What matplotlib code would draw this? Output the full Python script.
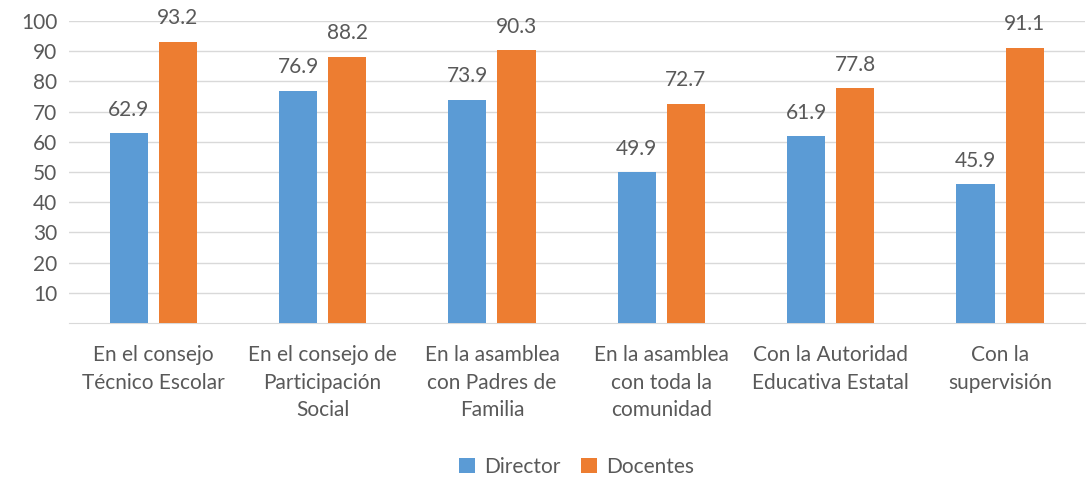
import matplotlib.pyplot as plt
import numpy as np

plt.rcParams['font.family'] = ['Lato', 'DejaVu Sans']

categories = ["En el consejo\nTécnico Escolar", "En el consejo de\nParticipación\nSocial",
              "En la asamblea\ncon Padres de\nFamilia", "En la asamblea\ncon toda la\ncomunidad",
              "Con la Autoridad\nEducativa Estatal", "Con la\nsupervisión"]
director = [62.9, 76.9, 73.9, 49.9, 61.9, 45.9]
docentes = [93.2, 88.2, 90.3, 72.7, 77.8, 91.1]

blue = '#5B9BD5'
orange = '#ED7D31'
txt = '#595959'
fs = 15

fig = plt.figure(figsize=(10.88, 4.78), dpi=100)
ax = fig.add_axes([0.063, 0.324, 0.934, 0.632])

x = np.arange(len(categories))
w = 0.225
off = 0.145
b1 = ax.bar(x - off, director, width=w, color=blue, label='Director', zorder=3)
b2 = ax.bar(x + off, docentes, width=w, color=orange, label='Docentes', zorder=3)

for bars, vals in ((b1, director), (b2, docentes)):
    for b, v in zip(bars, vals):
        ax.text(b.get_x() + b.get_width() / 2, v + 4.5, f"{v:.1f}", ha='center', va='bottom',
                fontsize=fs, color=txt)

ax.set_xlim(-0.5, len(categories) - 0.5)
ax.set_ylim(0, 100)
ax.set_yticks(range(10, 101, 10))
ax.set_xticks(x)
ax.set_xticklabels(categories, fontsize=fs, color=txt, linespacing=1.45, va='top')
ax.tick_params(axis='both', length=0, colors=txt, labelsize=fs)
ax.tick_params(axis='y', pad=8)
ax.tick_params(axis='x', pad=16)
ax.grid(axis='y', color='#D9D9D9', linewidth=1, zorder=0)
for s in ['top', 'right', 'left']:
    ax.spines[s].set_visible(False)
ax.spines['bottom'].set_color('#D9D9D9')

ax.legend(loc='center', bbox_to_anchor=(0.5, -0.475), ncol=2, frameon=False, fontsize=fs,
          handlelength=0.75, handleheight=0.75, handletextpad=0.45, columnspacing=1.0,
          labelcolor=txt)

fig.savefig('out.png', dpi=100)
